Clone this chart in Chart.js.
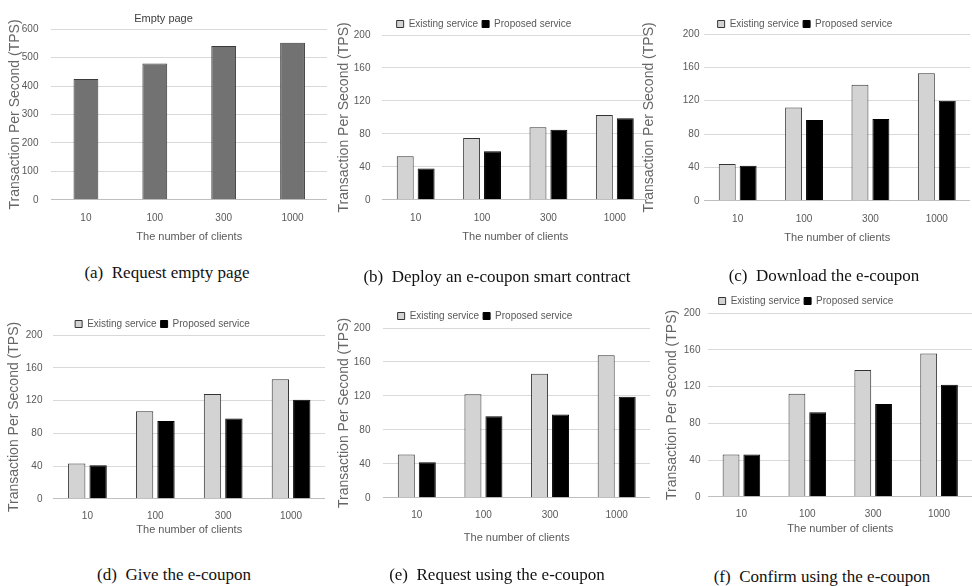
<!DOCTYPE html>
<html>
<head>
<meta charset="utf-8">
<script src="https://cdn.jsdelivr.net/npm/chart.js@4.4.1/dist/chart.umd.min.js"></script>
<style>
  body { margin: 0; background: #fff; width: 972px; height: 586px; position: relative; overflow: hidden; }
  .panel { position: absolute; }
  .caption { position: absolute; font-family: "Liberation Serif", "Times New Roman", serif; font-size: 17px; color: #111; white-space: nowrap; transform: translate(-50%, -50%); }
</style>
</head>
<body>

<div class="panel" style="left:0px;top:0px;width:330px;height:244px"><canvas id="chartA"></canvas></div>
<div class="panel" style="left:320px;top:0px;width:330px;height:244px"><canvas id="chartB"></canvas></div>
<div class="panel" style="left:640px;top:0px;width:332px;height:245px"><canvas id="chartC"></canvas></div>
<div class="panel" style="left:0px;top:290px;width:330px;height:247px"><canvas id="chartD"></canvas></div>
<div class="panel" style="left:320px;top:290px;width:330px;height:255px"><canvas id="chartE"></canvas></div>
<div class="panel" style="left:640px;top:290px;width:332px;height:246px"><canvas id="chartF"></canvas></div>

<div class="caption" style="left:167px;top:273px">(a)&nbsp; Request empty page</div>
<div class="caption" style="left:497px;top:277px">(b)&nbsp; Deploy an e-coupon smart contract</div>
<div class="caption" style="left:824px;top:276px">(c)&nbsp; Download the e-coupon</div>
<div class="caption" style="left:174px;top:575px">(d)&nbsp; Give the e-coupon</div>
<div class="caption" style="left:497px;top:575px">(e)&nbsp; Request using the e-coupon</div>
<div class="caption" style="left:822px;top:577px">(f)&nbsp; Confirm using the e-coupon</div>

<script>
// data
const clients = ['10', '100', '300', '1000'];
const seriesNames = ['Existing service', 'Proposed service'];

const emptyPage = [425, 479, 541, 552];

const deployExisting = [53, 75, 88, 103];
const deployProposed = [38, 59, 85, 99];

const downloadExisting = [44, 112, 139, 153];
const downloadProposed = [42, 97, 98, 120];

const giveExisting = [43, 107, 128, 146];
const giveProposed = [41, 95, 98, 121];

const requestExisting = [51, 122, 146, 168];
const requestProposed = [42, 96, 98, 119];

const confirmExisting = [46, 112, 138, 156];
const confirmProposed = [46, 92, 101, 122];

const textGray = '#595959';
const gridGray = '#d9d9d9';
const sans = '"Liberation Sans", Arial, sans-serif';

Chart.defaults.font.family = sans;
Chart.defaults.color = textGray;

// the legend box is a bit tall by default, trim it so the plot sits closer
const legendTrim = {
    id: 'legendTrim',
    beforeLayout(chart, args, pluginOpts) {
        const lg = chart.legend;
        if (lg && !lg._trimmed) {
            const fit = lg.fit.bind(lg);
            lg.fit = function () {
                fit();
                if (this.height > 0) this.height -= pluginOpts.trim || 0;
            };
            lg._trimmed = true;
        }
    }
};

function buildChart(id, datasets, opts) {
    const grouped = datasets.length > 1;
    return new Chart(document.getElementById(id), {
        type: 'bar',
        data: { labels: clients, datasets: datasets },
        plugins: [legendTrim],
        options: {
            responsive: true,
            maintainAspectRatio: false,
            animation: false,
            layout: { padding: opts.pad },
            datasets: {
                bar: {
                    categoryPercentage: grouped ? 0.63 : 1,
                    barPercentage: grouped ? 0.81 : 0.36,
                    borderWidth: 1,
                    borderSkipped: 'bottom'
                }
            },
            plugins: {
                legendTrim: { trim: opts.trim || 0 },
                legend: {
                    display: grouped,
                    labels: {
                        boxWidth: 7,
                        boxHeight: 7,
                        padding: 4,
                        font: { size: 10 },
                        color: textGray
                    }
                },
                title: {
                    display: !!opts.title,
                    text: opts.title,
                    font: { size: 11, weight: 'normal' },
                    color: '#404040',
                    padding: { top: 11, bottom: 4 }
                },
                tooltip: { enabled: false }
            },
            scales: {
                x: {
                    grid: { display: false, drawTicks: false },
                    border: { display: false },
                    ticks: { font: { size: 10 }, padding: opts.xTickPad, color: textGray },
                    title: {
                        display: true,
                        text: 'The number of clients',
                        font: { size: 11 },
                        color: textGray,
                        padding: { top: opts.xTitlePad, bottom: 0 }
                    }
                },
                y: {
                    min: 0,
                    max: opts.max,
                    grid: {
                        color: (c) => c.tick.value === 0 ? '#bfbfbf' : gridGray,
                        drawTicks: false
                    },
                    border: { display: false },
                    ticks: { stepSize: opts.step, font: { size: 10 }, padding: opts.yTickPad, color: textGray },
                    title: {
                        display: true,
                        text: 'Transaction Per Second (TPS)',
                        font: { size: 14 },
                        color: '#666666',
                        padding: opts.yTitlePad
                    }
                }
            }
        }
    });
}

function pair(existing, proposed) {
    return [
        { label: seriesNames[0], data: existing, backgroundColor: '#d3d3d3', borderColor: '#333333' },
        { label: seriesNames[1], data: proposed, backgroundColor: '#000000', borderColor: '#000000' }
    ];
}

buildChart('chartA', [
    { label: 'Empty page', data: emptyPage, backgroundColor: '#727272', borderColor: '#3a3a3a' }
], { title: 'Empty page', max: 600, step: 100, pad: { top: 1, left: 0, right: 3, bottom: 0 },
     xTickPad: 12, xTitlePad: -5,
     yTickPad: 13, yTitlePad: { top: 7, bottom: -15 } });

buildChart('chartB', pair(deployExisting, deployProposed),
    { max: 200, step: 40, trim: 4, pad: { top: 15, left: 0, right: 2, bottom: 0 },
      xTickPad: 12, xTitlePad: -5,
      yTickPad: 12, yTitlePad: { top: 16, bottom: -11 } });

buildChart('chartC', pair(downloadExisting, downloadProposed),
    { max: 200, step: 40, trim: 5, pad: { top: 15, left: 0, right: 2, bottom: 0 },
      xTickPad: 12, xTitlePad: -5,
      yTickPad: 5, yTitlePad: { top: 1, bottom: 20 } });

buildChart('chartD', pair(giveExisting, giveProposed),
    { max: 200, step: 40, trim: 4, pad: { top: 25, left: 0, right: 5, bottom: 0 },
      xTickPad: 11, xTitlePad: -9,
      yTickPad: 11, yTitlePad: { top: 6, bottom: -8 } });

buildChart('chartE', pair(requestExisting, requestProposed),
    { max: 200, step: 40, trim: 3, pad: { top: 17, left: 0, right: 0, bottom: 0 },
      xTickPad: 11, xTitlePad: 0,
      yTickPad: 13, yTitlePad: { top: 16, bottom: -12 } });

buildChart('chartF', pair(confirmExisting, confirmProposed),
    { max: 200, step: 40, trim: 3, pad: { top: 2, left: 0, right: 0, bottom: 0 },
      xTickPad: 11, xTitlePad: -8,
      yTickPad: 8, yTitlePad: { top: 24, bottom: -5 } });
</script>
</body>
</html>
